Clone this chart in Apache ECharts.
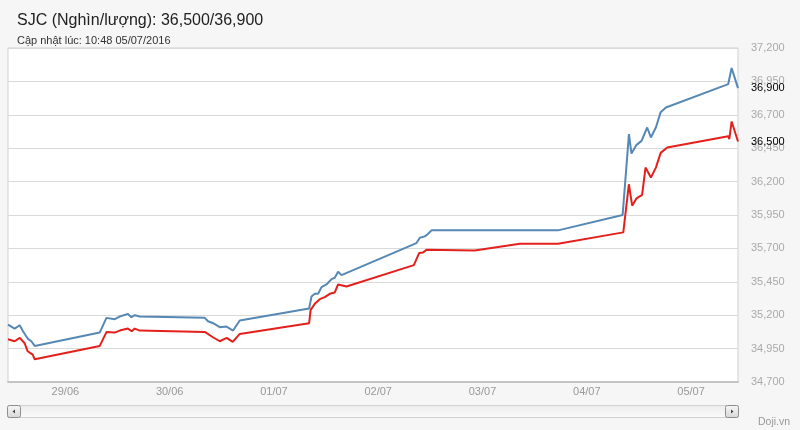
<!DOCTYPE html>
<html>
<head>
<meta charset="utf-8">
<title>SJC</title>
<script src="https://cdn.jsdelivr.net/npm/echarts@6/dist/echarts.min.js"></script>
<style>
  html, body { margin: 0; padding: 0; background: #f6f6f6; }
  #chart { width: 800px; height: 430px; }
</style>
</head>
<body>
<div id="chart"></div>
<script>
  'use strict';

  // Gia ban (blue line)
  var timesBan = [
    '2016-06-28 10:48', '2016-06-28 12:20', '2016-06-28 13:30', '2016-06-28 14:15',
    '2016-06-28 15:20', '2016-06-28 16:10', '2016-06-28 16:57', '2016-06-29 07:55',
    '2016-06-29 09:27', '2016-06-29 11:22', '2016-06-29 12:30', '2016-06-29 14:25',
    '2016-06-29 15:10', '2016-06-29 15:58', '2016-06-29 17:07', '2016-06-30 08:05',
    '2016-06-30 08:50', '2016-06-30 10:00', '2016-06-30 11:32', '2016-06-30 13:05',
    '2016-06-30 14:36', '2016-06-30 16:08', '2016-07-01 08:06', '2016-07-01 08:39',
    '2016-07-01 09:24', '2016-07-01 10:10', '2016-07-01 10:57', '2016-07-01 12:06',
    '2016-07-01 13:15', '2016-07-01 14:00', '2016-07-01 14:46', '2016-07-01 15:33',
    '2016-07-02 08:48', '2016-07-02 09:35', '2016-07-02 10:44', '2016-07-02 11:30',
    '2016-07-02 12:16', '2016-07-03 17:24', '2016-07-04 08:15', '2016-07-04 09:42',
    '2016-07-04 10:17', '2016-07-04 11:27', '2016-07-04 12:36', '2016-07-04 13:54',
    '2016-07-04 14:45', '2016-07-04 15:54', '2016-07-04 17:00', '2016-07-04 18:13',
    '2016-07-05 08:33', '2016-07-05 08:48', '2016-07-05 09:20', '2016-07-05 10:48'
  ];
  var valuesBan = [
    35130, 35100, 35125, 35080,
    35025, 35005, 34970, 35070,
    35180, 35170, 35190, 35210,
    35185, 35200, 35190, 35180,
    35155, 35140, 35110, 35115,
    35085, 35160, 35250, 35340,
    35360, 35360, 35410, 35430,
    35470, 35480, 35525, 35500,
    35740, 35780, 35790, 35810,
    35835, 35835, 35950, 36555,
    36410, 36475, 36505, 36605,
    36530, 36605, 36720, 36755,
    36930, 36918, 37050, 36900
  ];

  // Gia mua (red line)
  var timesMua = [
    '2016-06-28 10:48', '2016-06-28 12:20', '2016-06-28 13:30', '2016-06-28 14:38',
    '2016-06-28 15:20', '2016-06-28 16:29', '2016-06-28 16:57', '2016-06-29 07:55',
    '2016-06-29 09:29', '2016-06-29 11:22', '2016-06-29 12:30', '2016-06-29 14:23',
    '2016-06-29 15:17', '2016-06-29 15:58', '2016-06-29 17:07', '2016-06-30 08:05',
    '2016-06-30 09:58', '2016-06-30 11:32', '2016-06-30 13:07', '2016-06-30 14:31',
    '2016-06-30 16:08', '2016-07-01 08:06', '2016-07-01 08:27', '2016-07-01 09:24',
    '2016-07-01 10:33', '2016-07-01 11:42', '2016-07-01 12:51', '2016-07-01 14:00',
    '2016-07-01 14:46', '2016-07-01 16:42', '2016-07-02 08:12', '2016-07-02 09:25',
    '2016-07-02 10:20', '2016-07-02 11:07', '2016-07-02 22:12', '2016-07-03 08:36',
    '2016-07-03 17:24', '2016-07-04 08:24', '2016-07-04 09:41', '2016-07-04 10:27',
    '2016-07-04 11:27', '2016-07-04 12:44', '2016-07-04 13:31', '2016-07-04 14:45',
    '2016-07-04 15:54', '2016-07-04 17:00', '2016-07-04 18:31', '2016-07-05 08:33',
    '2016-07-05 08:48', '2016-07-05 09:20', '2016-07-05 10:48'
  ];
  var valuesMua = [
    35020, 35005, 35030, 34990,
    34930, 34905, 34870, 34970,
    35075, 35070, 35085, 35100,
    35080, 35100, 35085, 35075,
    35035, 35005, 35030, 35000,
    35060, 35140, 35240, 35285,
    35320, 35335, 35360, 35370,
    35430, 35415, 35575, 35665,
    35670, 35690, 35685, 35735,
    35735, 35820, 36180, 36020,
    36075, 36100, 36305, 36230,
    36305, 36415, 36455, 36540,
    36518, 36650, 36500
  ];

  var yMin = 34700, yMax = 37200, yStep = 250;
  var titleText = 'SJC (Nghìn/lượng): 36,500/36,900';
  var subText = 'Cập nhật lúc: 10:48 05/07/2016';
  var FONT = '"Liberation Sans", Arial, sans-serif';

  function fmt(v) {
    return echarts.format.addCommas(v);
  }
  function pairs(times, values) {
    return times.map(function (t, i) { return [t, values[i]]; });
  }

  var btnFill = new echarts.graphic.LinearGradient(0, 0, 0, 1, [
    { offset: 0, color: '#f8f8f8' }, { offset: 1, color: '#d6d6d6' }
  ]);
  var trackFill = new echarts.graphic.LinearGradient(0, 0, 0, 1, [
    { offset: 0, color: '#ececec' }, { offset: 1, color: '#fbfbfb' }
  ]);

  var chart = echarts.init(document.getElementById('chart'));
  chart.setOption({
    animation: false,
    backgroundColor: '#f6f6f6',
    textStyle: { fontFamily: FONT },
    title: {
      text: titleText,
      subtext: subText,
      left: 17,
      top: 13,
      padding: 0,
      itemGap: 6,
      textStyle: { fontFamily: FONT, fontSize: 16, fontWeight: 'normal', color: '#222' },
      subtextStyle: { fontFamily: FONT, fontSize: 11, color: '#333' }
    },
    grid: {
      left: 8, right: 62, top: 48, bottom: 48,
      show: true, backgroundColor: '#fff', borderColor: '#d0d0d0', borderWidth: 1,
      containLabel: false
    },
    xAxis: {
      type: 'time',
      min: timesBan[0],
      max: timesBan[timesBan.length - 1],
      minInterval: 24 * 3600 * 1000,
      maxInterval: 24 * 3600 * 1000,
      axisLine: { show: true, lineStyle: { color: '#c4c4c4', width: 2 } },
      axisTick: { show: false },
      splitLine: { show: false },
      axisLabel: {
        formatter: '{dd}/{MM}',
        color: '#999', fontSize: 11, margin: 4, fontFamily: FONT,
        showMinLabel: false, showMaxLabel: false
      }
    },
    yAxis: {
      type: 'value',
      position: 'right',
      min: yMin, max: yMax, interval: yStep,
      axisLine: { show: false },
      axisTick: { show: false },
      splitLine: { lineStyle: { color: '#dadada', width: 1 } },
      axisLabel: {
        formatter: fmt, color: '#aaa', fontSize: 11, margin: 13, fontFamily: FONT
      }
    },
    series: [
      {
        name: 'Bán',
        type: 'line',
        data: pairs(timesBan, valuesBan),
        showSymbol: false,
        symbol: 'none',
        lineStyle: { color: '#5688b4', width: 2 },
        itemStyle: { color: '#5688b4' },
        endLabel: {
          show: true, distance: 13, color: '#000', fontSize: 11, fontFamily: FONT,
          formatter: function (p) { return fmt(p.value[1]); }
        }
      },
      {
        name: 'Mua',
        type: 'line',
        data: pairs(timesMua, valuesMua),
        showSymbol: false,
        symbol: 'none',
        lineStyle: { color: '#e3201b', width: 2 },
        itemStyle: { color: '#e3201b' },
        endLabel: {
          show: true, distance: 13, color: '#000', fontSize: 11, fontFamily: FONT,
          formatter: function (p) { return fmt(p.value[1]); }
        }
      }
    ],
    graphic: [
      // scrollbar track
      { type: 'rect', shape: { x: 8, y: 405.5, width: 730, height: 12 },
        style: { fill: trackFill, stroke: '#d2d2d2', lineWidth: 1 } },
      // left button
      { type: 'rect', shape: { x: 7.5, y: 405.5, width: 13, height: 12, r: 2 },
        style: { fill: btnFill, stroke: '#8e8e8e', lineWidth: 1 } },
      { type: 'polygon', shape: { points: [[15, 409.5], [15, 413.5], [12.5, 411.5]] },
        style: { fill: '#444' } },
      // right button
      { type: 'rect', shape: { x: 725.5, y: 405.5, width: 13, height: 12, r: 2 },
        style: { fill: btnFill, stroke: '#8e8e8e', lineWidth: 1 } },
      { type: 'polygon', shape: { points: [[731, 409.5], [731, 413.5], [733.5, 411.5]] },
        style: { fill: '#444' } },
      // credit
      { type: 'text', left: 758, top: 417,
        style: { text: 'Doji.vn', fill: '#999', fontSize: 10.5, fontFamily: FONT } }
    ]
  });
</script>
</body>
</html>
